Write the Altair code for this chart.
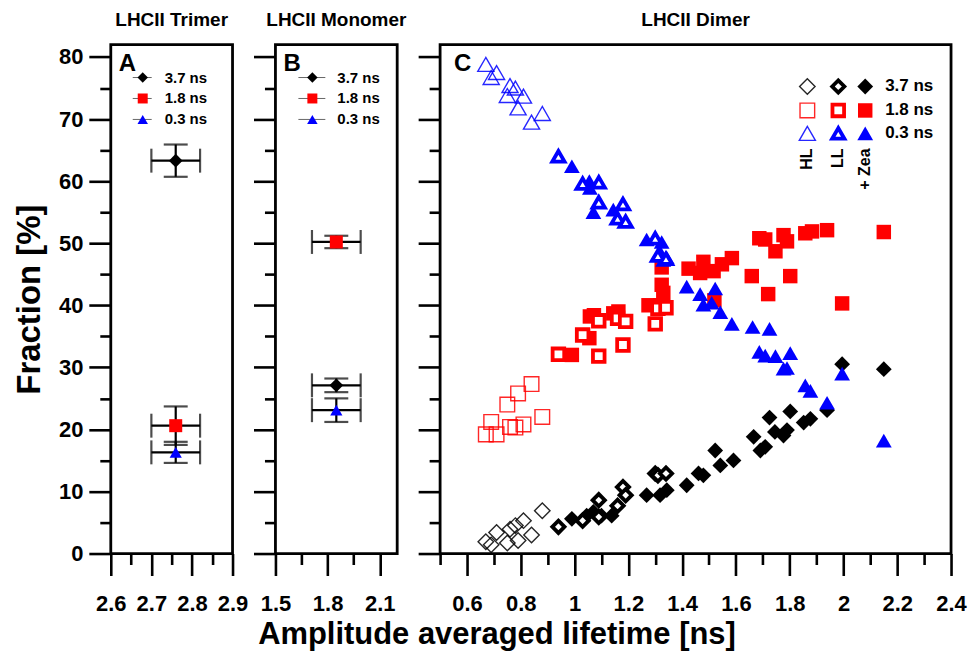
import altair as alt
import pandas as pd

FONT = "Liberation Sans"

comp_names = ["3.7 ns", "1.8 ns", "0.3 ns"]
comp_colors = ["#000000", "#ff0000", "#0000ff"]
comp_shapes = ["diamond", "square", "triangle-up"]

# ---- Panel A: LHCII Trimer ----
A_x = [2.76, 2.76, 2.76]
A_xerr = [0.06, 0.06, 0.06]
A_y = [63.3, 20.6, 16.3]
A_yerr = [2.6, 3.1, 1.7]

# ---- Panel B: LHCII Monomer ----
B_x = [1.85, 1.85, 1.85]
B_xerr = [0.14, 0.14, 0.14]
B_y = [27.1, 50.2, 23.1]
B_yerr = [1.1, 1.0, 1.9]

# ---- Panel C: LHCII Dimer ----
# HL (open, thin)
HL_x = [0.67, 0.71, 0.69, 0.76, 0.78, 0.75, 0.81, 0.79, 0.88, 0.84]
HL_03 = [78.8, 77.5, 76.7, 75.4, 75.0, 73.8, 73.7, 71.8, 70.9, 69.5]
HL_18 = [19.2, 19.2, 21.2, 20.4, 20.3, 24.0, 20.8, 25.8, 22.0, 27.3]
HL_37 = [1.9, 3.4, 1.4, 3.9, 4.5, 1.7, 5.3, 2.1, 6.9, 3.0]
# LL (open, thick)
LL_x = [0.94, 1.03, 1.09, 1.09, 1.16, 1.18, 1.19, 1.30, 1.31, 1.34]
LL_03 = [64.0, 59.6, 59.8, 56.6, 54.0, 56.3, 53.5, 50.8, 48.0, 47.5]
LL_18 = [32.1, 35.2, 31.8, 37.5, 37.9, 33.6, 37.4, 37.0, 39.5, 39.6]
LL_37 = [4.3, 5.3, 8.6, 5.9, 7.7, 10.7, 9.4, 12.9, 12.6, 12.9]
# + Zea (filled)
Z03_x = [0.99, 1.055, 1.057, 1.07, 1.144, 1.268, 1.324, 1.318, 1.343, 1.33,
         1.417, 1.523, 1.467, 1.479, 1.51, 1.542, 1.585, 1.662, 1.725, 1.687,
         1.709, 1.747, 1.802, 1.777, 1.79, 1.858, 1.877, 1.939, 1.995, 2.15]
Z03_y = [62.4, 60.0, 58.9, 55.0, 55.4, 50.6, 50.2, 48.6, 47.7, 47.3,
         43.0, 42.7, 41.8, 40.1, 40.4, 38.9, 37.0, 36.5, 36.2, 32.5,
         31.9, 31.8, 32.3, 29.8, 29.9, 27.1, 26.2, 24.3, 29.0, 18.2]
Z18_x = [0.99, 1.055, 1.057, 1.072, 1.144, 1.163, 1.275, 1.318, 1.324, 1.33,
         1.324, 1.424, 1.467, 1.479, 1.517, 1.548, 1.585, 1.52, 1.659, 1.687,
         1.709, 1.72, 1.747, 1.777, 1.79, 1.802, 1.858, 1.883, 1.939, 1.995, 2.15]
Z18_y = [32.0, 34.7, 38.2, 38.4, 38.7, 39.0, 40.0, 40.0, 43.3, 42.0,
         46.1, 45.9, 45.2, 47.0, 45.5, 46.6, 47.6, 40.8, 44.7, 50.8,
         50.6, 41.8, 48.7, 51.3, 50.3, 44.7, 51.6, 51.9, 52.1, 40.3, 51.8]
Z37_x = [0.99, 1.045, 1.07, 1.10, 1.138, 1.268, 1.318, 1.343, 1.417, 1.461,
         1.479, 1.523, 1.542, 1.591, 1.666, 1.691, 1.709, 1.725, 1.745, 1.777,
         1.79, 1.802, 1.852, 1.877, 1.939, 1.995, 2.15]
Z37_y = [5.6, 6.1, 6.7, 6.1, 6.1, 9.4, 9.4, 10.2, 11.0, 12.9,
         12.6, 16.6, 14.2, 15.0, 18.8, 16.6, 17.2, 21.9, 19.6, 19.0,
         19.9, 22.9, 21.1, 21.7, 23.1, 30.5, 29.7]

set_labels = ["HL", "LL", "+ Zea"]
x_title = "Amplitude averaged lifetime [ns]"
y_title = "Fraction [%]"

Y_DOMAIN = [0, 82]
Y_TICKS = list(range(0, 81, 5))
H = 510
VIEW = alt.ViewBackground(stroke="black", strokeWidth=2.8, fill="white")


def make_axis(values, test, show_labels=True, title=None, orient="bottom"):
    kw = dict(
        values=values,
        title=title,
        tickSize={"condition": {"test": test, "value": 22}, "value": 11},
        tickWidth=2.6,
        tickColor="black",
        domain=False,
        grid=False,
        labels=show_labels,
        labelFont=FONT,
        labelFontSize=22,
        labelFontWeight="bold",
        labelColor="black",
        labelFlush=False,
        labelOverlap=False,
        labelBound=False,
        format="~g",
        labelExpr=f"({test}) ? datum.label : ''",
        orient=orient,
    )
    if title:
        kw.update(titleFont=FONT, titleFontSize=33, titleFontWeight="bold",
                  titleColor="black", titlePadding=12)
    if orient == "bottom":
        kw["labelPadding"] = 18
    else:
        kw["labelPadding"] = 6
    return alt.Axis(**kw)


Y_TEST = "datum.value % 10 === 0"
one = pd.DataFrame({"k": [0]})


def panel_title(t):
    return alt.TitleParams(t, font=FONT, fontSize=19, fontWeight="bold",
                           color="black", offset=15, anchor="middle")


def err_panel(xs, xerr, ys, yerr, domain, width, xticks, xtest, letter, title,
              leg_line, leg_mark_x, leg_text_x, show_ylabels, extra=None):
    df = pd.DataFrame({
        "comp": comp_names,
        "x": xs,
        "y": ys,
        "xlo": [a - b for a, b in zip(xs, xerr)],
        "xhi": [a + b for a, b in zip(xs, xerr)],
        "ylo": [a - b for a, b in zip(ys, yerr)],
        "yhi": [a + b for a, b in zip(ys, yerr)],
    })
    xs_ = alt.Scale(domain=domain, nice=False, zero=False)
    ys_ = alt.Scale(domain=Y_DOMAIN, nice=False, zero=False)
    xax = make_axis(xticks, xtest)
    yax = make_axis(Y_TICKS, Y_TEST, show_labels=show_ylabels,
                    title=y_title if show_ylabels else None, orient="left")
    base = alt.Chart(df)
    hbar = base.mark_rule(color="black", strokeWidth=2.2).encode(
        x=alt.X("xlo:Q", scale=xs_, axis=xax), x2="xhi:Q",
        y=alt.Y("y:Q", scale=ys_, axis=yax))
    vbar = base.mark_rule(color="black", strokeWidth=2.2).encode(
        x=alt.X("x:Q", scale=xs_, axis=xax),
        y=alt.Y("ylo:Q", scale=ys_, axis=yax), y2="yhi:Q")
    caps_lo = base.mark_tick(orient="horizontal", size=24, thickness=2.2, color="black").encode(
        x=alt.X("x:Q", scale=xs_, axis=xax), y=alt.Y("ylo:Q", scale=ys_, axis=yax))
    caps_hi = base.mark_tick(orient="horizontal", size=24, thickness=2.2, color="black").encode(
        x=alt.X("x:Q", scale=xs_, axis=xax), y=alt.Y("yhi:Q", scale=ys_, axis=yax))
    caps_l = base.mark_tick(orient="vertical", size=24, thickness=2.2, color="black").encode(
        x=alt.X("xlo:Q", scale=xs_, axis=xax), y=alt.Y("y:Q", scale=ys_, axis=yax))
    caps_r = base.mark_tick(orient="vertical", size=24, thickness=2.2, color="black").encode(
        x=alt.X("xhi:Q", scale=xs_, axis=xax), y=alt.Y("y:Q", scale=ys_, axis=yax))
    layers = [hbar, vbar, caps_lo, caps_hi, caps_l, caps_r]
    sizes = [190, 170, 150]
    for i, c in enumerate(comp_names):
        layers.append(
            alt.Chart(df[df.comp == c]).mark_point(
                shape=comp_shapes[i], filled=True, color=comp_colors[i], opacity=1, size=sizes[i]
            ).encode(x=alt.X("x:Q", scale=xs_, axis=xax), y=alt.Y("y:Q", scale=ys_, axis=yax))
        )
    # legend
    rows = [33, 54, 75]
    lsizes = [110, 100, 110]
    for i, c in enumerate(comp_names):
        layers.append(alt.Chart(one).mark_rule(color="#666666", strokeWidth=1).encode(
            x=alt.value(leg_line[0]), x2=alt.value(leg_line[1]), y=alt.value(rows[i])))
        layers.append(alt.Chart(one).mark_point(
            shape=comp_shapes[i], filled=True, color=comp_colors[i], opacity=1, size=lsizes[i]
        ).encode(x=alt.value(leg_mark_x), y=alt.value(rows[i])))
        layers.append(alt.Chart(one).mark_text(
            text=c, align="left", baseline="middle", font=FONT, fontSize=15,
            fontWeight="bold", color="black"
        ).encode(x=alt.value(leg_text_x), y=alt.value(rows[i])))
    layers.append(alt.Chart(one).mark_text(
        text=letter, align="left", baseline="middle", font=FONT, fontSize=24,
        fontWeight="bold", color="black").encode(x=alt.value(8), y=alt.value(19)))
    if extra is not None:
        layers.append(extra)
    return alt.layer(*layers).properties(
        width=width, height=H, view=VIEW, title=panel_title(title))


A_XT = [2.6, 2.65, 2.7, 2.75, 2.8, 2.85, 2.9]
B_XT = [1.5, 1.65, 1.8, 1.95, 2.1]
C_XT = [round(0.5 + 0.1 * i, 1) for i in range(20)]

xtitle_mark = alt.Chart(one).mark_text(
    text=x_title, align="center", baseline="middle", font=FONT, fontSize=31,
    fontWeight="bold", color="black").encode(x=alt.value(222), y=alt.value(592))

panelA = err_panel(A_x, A_xerr, A_y, A_yerr, [2.6, 2.9], 122, A_XT,
                   "abs(datum.value*10 - round(datum.value*10)) < 0.001",
                   "A", "LHCII Trimer", (22, 41), 32, 54, True)
panelB = err_panel(B_x, B_xerr, B_y, B_yerr, [1.5, 2.2], 122, B_XT,
                   "abs((datum.value-1.5)/0.3 - round((datum.value-1.5)/0.3)) < 0.001",
                   "B", "LHCII Monomer", (23, 50), 37, 62, False, extra=xtitle_mark)

# ---- Panel C ----
cxs = alt.Scale(domain=[0.5, 2.4], nice=False, zero=False)
cys = alt.Scale(domain=Y_DOMAIN, nice=False, zero=False)
cxax = make_axis(C_XT, "abs(datum.value*5 - round(datum.value*5)) < 0.001")
cyax = make_axis(Y_TICKS, Y_TEST, show_labels=False, orient="left")

STYLE = {
    "HL": lambda col: dict(filled=False, stroke=col, strokeWidth=1.4, strokeOpacity=0.85),
    "LL": lambda col: dict(filled=True, fill="white", stroke=col, strokeWidth=3.8),
    "Zea": lambda col: dict(filled=True, fill=col, strokeWidth=0),
}
SIZE = {
    ("HL", "diamond"): 240, ("HL", "square"): 215, ("HL", "triangle-up"): 260,
    ("LL", "diamond"): 150, ("LL", "square"): 135, ("LL", "triangle-up"): 150,
    ("Zea", "diamond"): 250, ("Zea", "square"): 210, ("Zea", "triangle-up"): 250,
}


def c_points(xs, ys, style, ci):
    df = pd.DataFrame({"x": xs, "y": ys})
    shape = comp_shapes[ci]
    return alt.Chart(df).mark_point(
        shape=shape, opacity=1, size=SIZE[(style, shape)], **STYLE[style](comp_colors[ci])
    ).encode(x=alt.X("x:Q", scale=cxs, axis=cxax), y=alt.Y("y:Q", scale=cys, axis=cyax))


c_layers = [
    c_points(Z37_x, Z37_y, "Zea", 0), c_points(LL_x, LL_37, "LL", 0), c_points(HL_x, HL_37, "HL", 0),
    c_points(Z18_x, Z18_y, "Zea", 1), c_points(LL_x, LL_18, "LL", 1), c_points(HL_x, HL_18, "HL", 1),
    c_points(Z03_x, Z03_y, "Zea", 2), c_points(LL_x, LL_03, "LL", 2), c_points(HL_x, HL_03, "HL", 2),
]

# custom legend for panel C
col_x = {"HL": 368, "LL": 399, "Zea": 426}
row_y = [42, 66, 89]
for ci in range(3):
    for st in ["HL", "LL", "Zea"]:
        shape = comp_shapes[ci]
        c_layers.append(alt.Chart(one).mark_point(
            shape=shape, opacity=1, size=SIZE[(st, shape)], **STYLE[st](comp_colors[ci])
        ).encode(x=alt.value(col_x[st]), y=alt.value(row_y[ci])))
    c_layers.append(alt.Chart(one).mark_text(
        text=comp_names[ci], align="left", baseline="middle", font=FONT, fontSize=17,
        fontWeight="bold", color="black").encode(x=alt.value(446), y=alt.value(row_y[ci])))
for st, lab in zip(["HL", "LL", "Zea"], set_labels):
    c_layers.append(alt.Chart(one).mark_text(
        text=lab, align="right", baseline="middle", angle=270, font=FONT, fontSize=16,
        fontWeight="bold", color="black").encode(x=alt.value(col_x[st]), y=alt.value(104)))
c_layers.append(alt.Chart(one).mark_text(
    text="C", align="left", baseline="middle", font=FONT, fontSize=24,
    fontWeight="bold", color="black").encode(x=alt.value(14), y=alt.value(19)))

panelC = alt.layer(*c_layers).properties(
    width=512, height=H, view=VIEW, title=panel_title("LHCII Dimer"))

chart = alt.hconcat(panelA, panelB, panelC, spacing=43, bounds="flush").properties(
    padding={"left": 4, "top": 0, "right": 0, "bottom": 0},
).configure(background="white").configure_view(stroke="black", strokeWidth=2.8)

chart.save("out.html", embed_options={"renderer": "svg", "actions": False})
